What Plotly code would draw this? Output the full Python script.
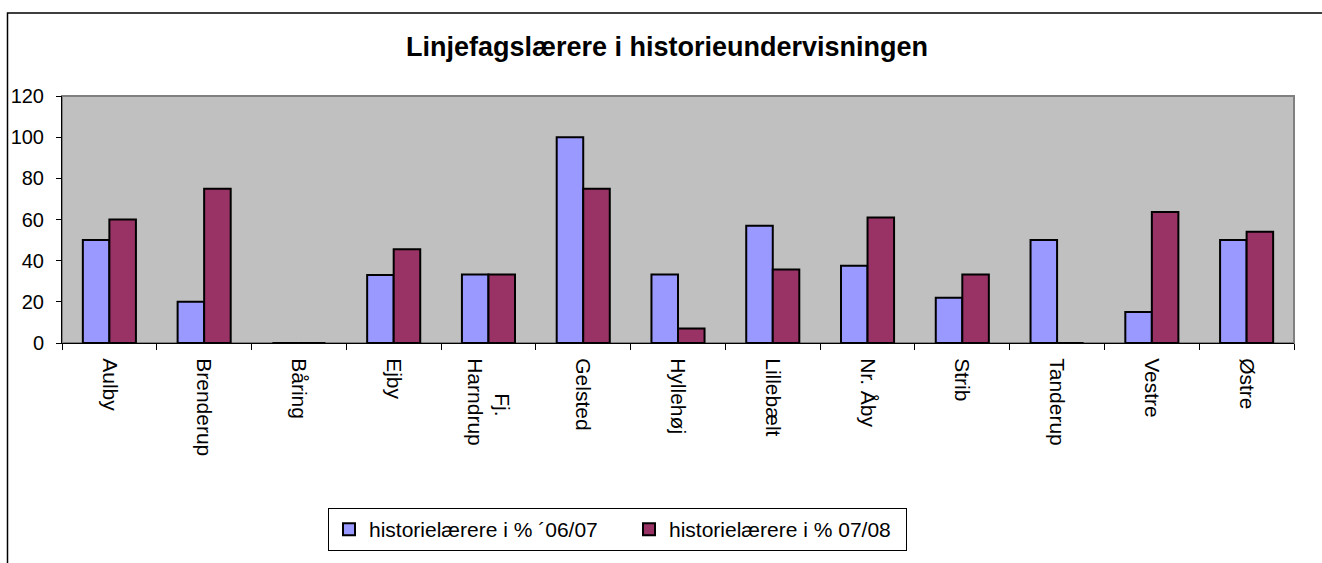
import plotly.graph_objects as go

categories = ["Aulby", "Brenderup", "Båring", "Ejby", "Fj.<br>Harndrup", "Gelsted",
              "Hyllehøj", "Lillebælt", "Nr. Åby", "Strib", "Tanderup", "Vestre", "Østre"]
series_0607 = [50, 20, 0, 33, 33.3, 100, 33.3, 57, 37.5, 22, 50, 15, 50]
series_0708 = [60, 75, 0, 45.5, 33.3, 75, 7, 35.7, 61, 33.3, 0, 63.6, 54]
name_0607 = "historielærere i % ´06/07"
name_0708 = "historielærere i % 07/08"
title_text = "Linjefagslærere i historieundervisningen"

FONT = "Liberation Sans, Arial, sans-serif"

# tick labels: centre the short first line of a two-line label, as Excel does
tick_labels = [c.replace("Fj.<br>", "\u00a0" * 6 + "Fj.<br>") for c in categories]

fig = go.Figure()
fig.add_trace(go.Bar(x=categories, y=series_0607, name=name_0607, legendwidth=255,
                     marker=dict(color="#9999FF", line=dict(color="black", width=2))))
fig.add_trace(go.Bar(x=categories, y=series_0708, name=name_0708, legendwidth=232,
                     marker=dict(color="#993366", line=dict(color="black", width=2))))

W, H = 1322, 563
PL, PR, PT, PB = 62, 1294, 96, 346  # plot area in screen pixels
L, T, R, B = PL, PT, W - PR, H - PB
pw, ph = PR - PL, PB - PT

def px_x(p):
    return (p - PL) / pw

def px_y(p):
    return (PB - p) / ph

fig.update_layout(
    width=W, height=H,
    margin=dict(l=L, r=R, t=T, b=B),
    paper_bgcolor="white",
    plot_bgcolor="#C0C0C0",
    font=dict(family=FONT, size=20, color="black"),
    barmode="group",
    bargap=0.44,
    bargroupgap=0,
    title=dict(text="<b>" + title_text + "</b>", x=667 / W, xref="container",
               y=1 - 47 / H, yref="container", xanchor="center", yanchor="middle",
               font=dict(family=FONT, size=27, color="black")),
    xaxis=dict(showline=True, linecolor="black", linewidth=1, ticks="outside",
               tickson="boundaries", ticklen=6, tickcolor="black", tickangle=90,
               tickmode="array", tickvals=categories, ticktext=tick_labels,
               showgrid=False, ticklabelstandoff=10,
               tickfont=dict(family=FONT, size=21, color="black")),
    yaxis=dict(range=[0, 120], dtick=20, showline=True, linecolor="black", linewidth=1,
               ticks="outside", ticklen=5, tickcolor="black", showgrid=False,
               zeroline=False, ticklabelstandoff=8,
               tickfont=dict(family=FONT, size=20, color="black")),
    legend=dict(orientation="h", x=px_x(328), y=px_y(513), xanchor="left", yanchor="top",
                bordercolor="black", borderwidth=1, bgcolor="white",
                font=dict(family=FONT, size=21, color="black"),
                entrywidthmode="pixels", itemwidth=30),
    showlegend=True,
)

# plot area border (gray top/right)
fig.add_shape(type="rect", xref="paper", yref="paper", x0=0, x1=1, y0=0, y1=1,
              line=dict(color="#808080", width=2), layer="below")
# outer chart border
fig.add_shape(type="rect", xref="paper", yref="paper",
              x0=px_x(7.5), x1=px_x(1340), y0=px_y(600), y1=px_y(12),
              line=dict(color="black", width=1.5), layer="below")

fig.write_html("out.html", config={"displayModeBar": False},
               post_script="document.body.style.margin='0';")
